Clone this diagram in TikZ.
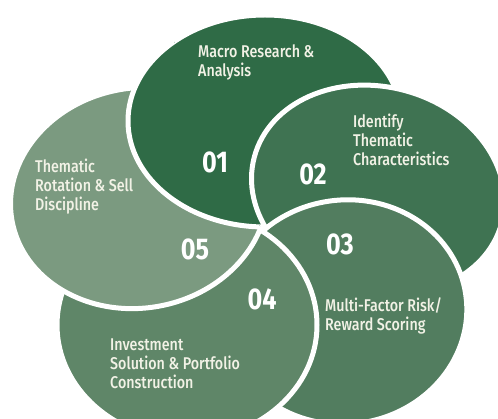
\documentclass[tikz,border=0pt]{standalone}
\usepackage{fontspec}
\setmainfont{Fira Sans}[FakeStretch=0.84, UprightFont={* Medium}, BoldFont={* Bold}]
\usepackage{tikz}

\definecolor{petalone}{HTML}{2F6B46}
\definecolor{petaltwo}{HTML}{3F7352}
\definecolor{petalthree}{HTML}{527D5F}
\definecolor{petalfour}{HTML}{5F8668}
\definecolor{petalfive}{HTML}{7B9A80}
\definecolor{labelcream}{RGB}{242,242,230}

\begin{document}
\begin{tikzpicture}[x=1pt, y=1pt,
  petal/.style={draw=white, line width=5pt},
  steplabel/.style={text=labelcream, font=\fontsize{17}{19}\selectfont, align=left, anchor=north west, inner sep=0pt},
  stepnum/.style={text=white, font=\bfseries\fontsize{30}{30}\selectfont, inner sep=0pt}]

% frame
\useasboundingbox (0,0) rectangle (498,418);
\clip (0,0) rectangle (498,418);

% split line through the middle
\coordinate (mid) at (261,187);
\coordinate (splittop) at (149,428);
\coordinate (splitbot) at (354,-12);

% 01, right part (lies under 02), a bit wider so no seam shows
\begin{scope}
  \clip ([xshift=-3pt]mid) -- ([xshift=-3pt]splittop) -- (510,428) -- (510,-12) -- ([xshift=-3pt]splitbot) -- cycle;
  \path[petal, fill=petalone] (265,297) ellipse (137 and 106);
\end{scope}

% 02 to 04
\path[petal, fill=petaltwo, rotate around={-15:(378,228)}] (378,228) ellipse (128 and 103);
\path[petal, fill=petalthree, rotate around={8:(345,106)}] (345,106) ellipse (122 and 112);
\path[petal, fill=petalfour] (187,93) ellipse (130 and 115);

% 05, kept just left of the split
\begin{scope}
  \clip (mid) -- ([xshift=-4pt]splittop) -- (-12,428) -- (-12,-12) -- (splitbot) -- cycle;
  \path[petal, fill=petalfive, rotate around={10:(139,220)}] (139,220) ellipse (129 and 110);
\end{scope}

% 01 left part, on top of 05
\begin{scope}
  \clip ([xshift=1pt]mid) -- ([xshift=1pt]splittop) -- (-12,428) -- (-12,-12) -- (splitbot) -- cycle;
  \path[petal, fill=petalone] (265,297) ellipse (137 and 106);
\end{scope}

% labels
\node[steplabel] (macro) at (198,373) {Macro Research \&\\Analysis};
\node[steplabel] (identify) at (353,304) {Identify\\Thematic\\Characteristics};
\node[steplabel] (scoring) at (325,121) {Multi-Factor Risk/\\Reward Scoring};
\node[steplabel] (solution) at (110,79) {Investment\\Solution \& Portfolio\\Construction};
\node[steplabel] (rotation) at (35,259) {Thematic\\Rotation \& Sell\\Discipline};

% numbers
\node[stepnum] (num1) at (215,256) {01};
\node[stepnum] (num2) at (313,244) {02};
\node[stepnum] (num3) at (340,174) {03};
\node[stepnum] (num4) at (262,119) {04};
\node[stepnum] (num5) at (195,169) {05};

\end{tikzpicture}
\end{document}
